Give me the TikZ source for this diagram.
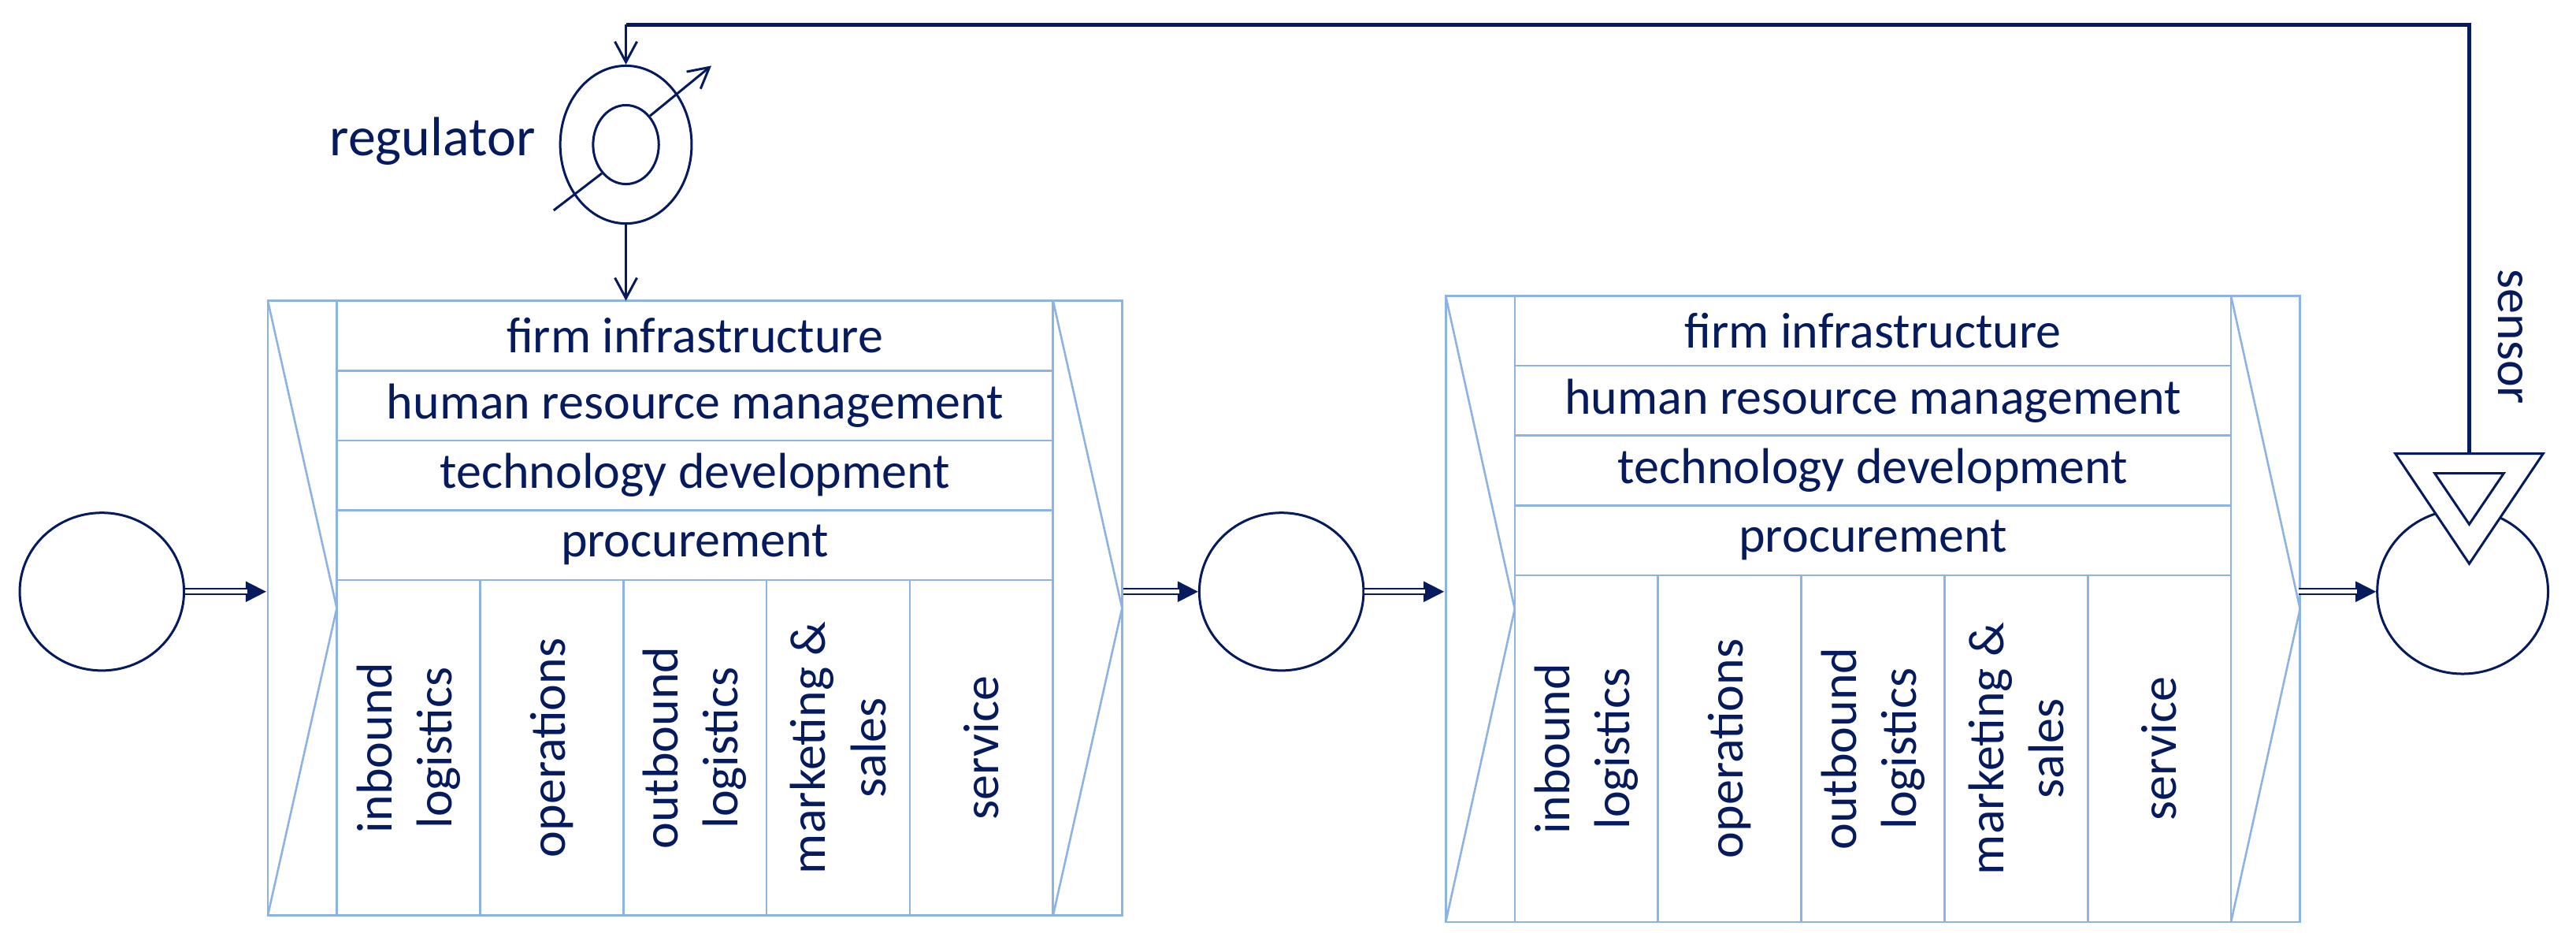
\documentclass[tikz,border=0pt]{standalone}
\usepackage{fontspec}
\setmainfont{Carlito}
\usetikzlibrary{arrows.meta,shapes.geometric,calc}
\definecolor{navy}{RGB}{6,26,94}
\definecolor{lblue}{RGB}{141,179,226}
\tikzset{
  bx/.style={draw=lblue,line width=2.6pt},
  lbl/.style={text=navy,font=\fontsize{64}{76}\selectfont,align=center,inner sep=0},
  circ/.style={ellipse,draw=navy,line width=3pt,fill=white,inner sep=0},
  nv/.style={draw=navy,line width=3pt},
  ar/.style={nv,-{Straight Barb[length=26pt,width=28pt,line width=3pt]}},
  tri/.style={-{Triangle[length=26pt,width=26pt]},draw=navy,fill=navy,line width=2pt},
  dbl/.style={draw=navy,line width=2pt,double=white,double distance=5pt,shorten >=24pt}
}
\newcommand\vcbox[4]{% name, x, y, height
\begin{scope}[shift={(#2,#3)}]
  \def\H{#4}
  \draw[bx] (0,0) rectangle (520,\H);
  \draw[bx] (42,0) -- (42,\H) (478,0) -- (478,\H);
  \draw[bx] (0,0) -- (42,\H/2) -- (0,\H);
  \draw[bx] (478,0) -- (520,\H/2) -- (478,\H);
  \foreach \i in {1,2,3,4}{\draw[bx] (42,42.5*\i) -- (478,42.5*\i);}
  \foreach \i in {1,2,3,4}{\draw[bx] (42+87.2*\i,170) -- (42+87.2*\i,\H);}
  \coordinate (#1L) at (0,\H/2);
  \coordinate (#1R) at (520,\H/2);
  \coordinate (#1T) at (218,0);
  \node[lbl] (#1r1) at (260,21.25) {firm infrastructure};
  \node[lbl] (#1r2) at (260,63.75) {human resource management};
  \node[lbl] (#1r3) at (260,106.25) {technology development};
  \node[lbl] (#1r4) at (260,148.75) {procurement};
  \path (0,170) -- (0,\H) coordinate[pos=0.5] (#1m);
  \node[lbl,rotate=90] (#1c1) at (42+43.6,0 |- #1m) {inbound\\logistics};
  \node[lbl,rotate=90] (#1c2) at (42+130.8,0 |- #1m) {operations};
  \node[lbl,rotate=90] (#1c3) at (42+218,0 |- #1m) {outbound\\logistics};
  \node[lbl,rotate=90] (#1c4) at (42+305.2,0 |- #1m) {marketing \&\\sales};
  \node[lbl,rotate=90] (#1c5) at (42+392.4,0 |- #1m) {service};
\end{scope}}
\begin{document}
\begin{tikzpicture}[x=2.085pt,y=-2.085pt]
\useasboundingbox[fill=white] (0,0) rectangle (1568,579);
\vcbox{A}{163}{183}{374}
\vcbox{B}{880}{180}{381}
\node[circ,minimum width=100\pgfmathresult pt,minimum height=96*2.085pt,minimum width=100*2.085pt] (e1) at (62,360) {};
\node[circ,minimum height=96*2.085pt,minimum width=100*2.085pt] (e2) at (780,360) {};
\node[circ,minimum height=100*2.085pt,minimum width=104*2.085pt] (e3) at (1499,360) {};
% double arrows
\foreach \a/\b in {e1.east/163,683/e2.west,e2.east/880,1398/e3.west}{}
\coordinate (a1s) at (e1.east); \coordinate (a1e) at (162,360);
\coordinate (a2s) at (684,360); \coordinate (a2e) at (e2.west);
\coordinate (a3s) at (e2.east); \coordinate (a3e) at (879,360);
\coordinate (a4s) at (1399,360); \coordinate (a4e) at (e3.west);
\foreach \i in {1,2,3,4}{
  \draw[tri] (a\i s) -- (a\i e);
  \draw[dbl] (a\i s) -- (a\i e);
}
% sensor
\draw[nv,fill=white] (1458,276) coordinate (st) -- (1548,276) -- (1503,343) -- cycle;
\draw[nv] (1482,288) -- (1524,288) -- (1503,319) -- cycle;
\coordinate (sT) at (1503,276);
\node[lbl,rotate=-90] (sl) at (1528,205) {sensor};
% regulator
\node[circ,minimum width=80*2.085pt,minimum height=96*2.085pt] (reg) at (381,88) {};
\node[circ,minimum width=40*2.085pt,minimum height=48*2.085pt] (regi) at (381,88) {};
\coordinate (d1) at (337,128); \coordinate (d2) at (433,40);
\draw[nv,shorten >=0pt] (d1) -- (regi.south west);
\draw[ar] (regi.north east) -- (d2);
\node[lbl,anchor=east,font=\fontsize{70}{80}\selectfont] (rl) at (326,86) {regulator};
% feedback
\coordinate (c1) at (1503,15); \coordinate (c2) at (381,15);
\draw[nv,line width=4.5pt] (sT) -- (c1) -- (c2);
\draw[ar] (c2) -- (reg.north);
\draw[ar] (reg.south) -- (381,183);
\end{tikzpicture}
\end{document}
